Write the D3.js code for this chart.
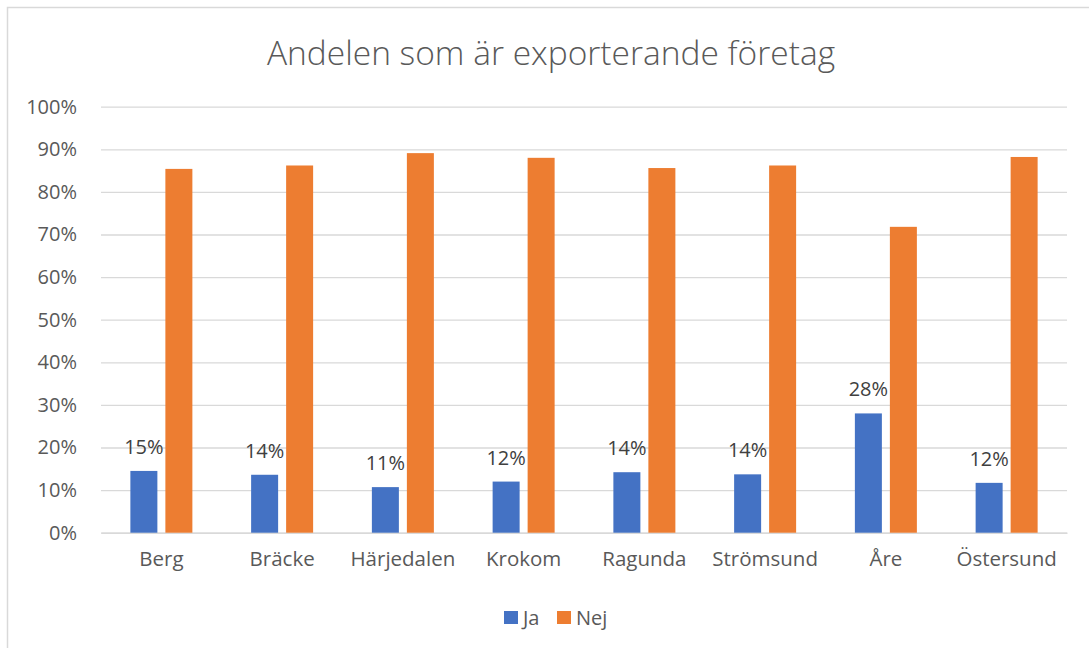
<!DOCTYPE html>
<html>
<head>
<meta charset="utf-8">
<script src="https://cdn.jsdelivr.net/npm/d3@7"></script>
<style>
  body { margin: 0; background: #fff; }
  svg { display: block; font-family: "Open Sans", sans-serif; }
</style>
</head>
<body>
<svg id="chart" width="1089" height="648"></svg>
<script>
// data
let kommuner = ["Berg", "Bräcke", "Härjedalen", "Krokom", "Ragunda", "Strömsund", "Åre", "Östersund"];
let ja  = [0.145, 0.136, 0.107, 0.120, 0.142, 0.137, 0.280, 0.117];
let nej = [0.854, 0.862, 0.891, 0.880, 0.856, 0.862, 0.718, 0.882];
let jaLabels = ["15%", "14%", "11%", "12%", "14%", "14%", "28%", "12%"];
let serier = ["Ja", "Nej"];
let farger = ["#4472C4", "#ED7D31"];
let yTicks = [0, 0.1, 0.2, 0.3, 0.4, 0.5, 0.6, 0.7, 0.8, 0.9, 1.0];

let svg = d3.select("#chart");
let textColor = "#595959";

// chart border (runs off the right and bottom like the original)
svg.append("rect")
  .attr("x", 7.5).attr("y", 7.5)
  .attr("width", 1120).attr("height", 700)
  .attr("fill", "#fff")
  .attr("stroke", "#d9d9d9")
  .attr("stroke-width", 1.5);

svg.append("text")
  .attr("x", 551).attr("y", 65)
  .attr("text-anchor", "middle")
  .attr("fill", textColor)
  .style("font-size", "33.5px")
  .style("font-weight", 300)
  .text("Andelen som är exporterande företag");

let margin = {left: 101, right: 1067, top: 106.7, bottom: 532.7};

let x0 = d3.scaleBand()
  .domain(kommuner)
  .range([margin.left, margin.right]);

let x1 = d3.scaleBand()
  .domain(serier)
  .range([x0.bandwidth() / 2 - 31, x0.bandwidth() / 2 + 31])
  .paddingInner(8 / 35);

let y = d3.scaleLinear()
  .domain([0, 1])
  .range([margin.bottom, margin.top]);

// gridlines + y labels
let yAxis = d3.axisLeft(y)
  .tickValues(yTicks)
  .tickSize(-(margin.right - margin.left))
  .tickPadding(24)
  .tickFormat(d3.format(".0%"));

let yGroup = svg.append("g")
  .attr("transform", "translate(" + margin.left + ",0)")
  .call(yAxis);
yGroup.select(".domain").remove();
yGroup.selectAll("line").attr("stroke", "#d9d9d9").attr("stroke-width", 1.3);
yGroup.selectAll("text")
  .attr("fill", textColor)
  .style("font-size", "20px")
  .style("font-family", "'Open Sans', sans-serif");

// x axis labels
let xAxis = d3.axisBottom(x0).tickSize(0).tickPadding(19);
let xGroup = svg.append("g")
  .attr("transform", "translate(0," + margin.bottom + ")")
  .call(xAxis);
xGroup.select(".domain").attr("stroke", "#d9d9d9").attr("stroke-width", 1.5);
xGroup.selectAll("text")
  .attr("fill", textColor)
  .style("font-size", "20.5px")
  .style("font-family", "'Open Sans', sans-serif");

// bars
let rows = kommuner.map(function(k, i) {
  return {kommun: k, values: [ja[i], nej[i]], label: jaLabels[i]};
});

let groups = svg.append("g").selectAll("g")
  .data(rows)
  .enter().append("g")
  .attr("transform", function(d) { return "translate(" + x0(d.kommun) + ",0)"; });

groups.selectAll("rect")
  .data(function(d) { return d.values.map(function(v, j) { return {serie: serier[j], value: v, color: farger[j]}; }); })
  .enter().append("rect")
  .attr("x", function(d) { return x1(d.serie); })
  .attr("y", function(d) { return y(d.value); })
  .attr("width", x1.bandwidth())
  .attr("height", function(d) { return y(0) - y(d.value); })
  .attr("fill", function(d) { return d.color; });

// data labels on Ja bars
groups.append("text")
  .attr("x", x1("Ja") + x1.bandwidth() / 2)
  .attr("y", function(d) { return y(d.values[0]) - 17; })
  .attr("text-anchor", "middle")
  .attr("fill", "#404040")
  .style("font-size", "20px")
  .text(function(d) { return d.label; });

// legend
let legend = svg.append("g");
let legendX = [504, 557];
serier.forEach(function(s, i) {
  legend.append("rect")
    .attr("x", legendX[i]).attr("y", 611)
    .attr("width", 14).attr("height", 13)
    .attr("fill", farger[i]);
  legend.append("text")
    .attr("x", legendX[i] + 19).attr("y", 625)
    .attr("fill", textColor)
    .style("font-size", "20px")
    .text(s);
});
</script>
</body>
</html>
